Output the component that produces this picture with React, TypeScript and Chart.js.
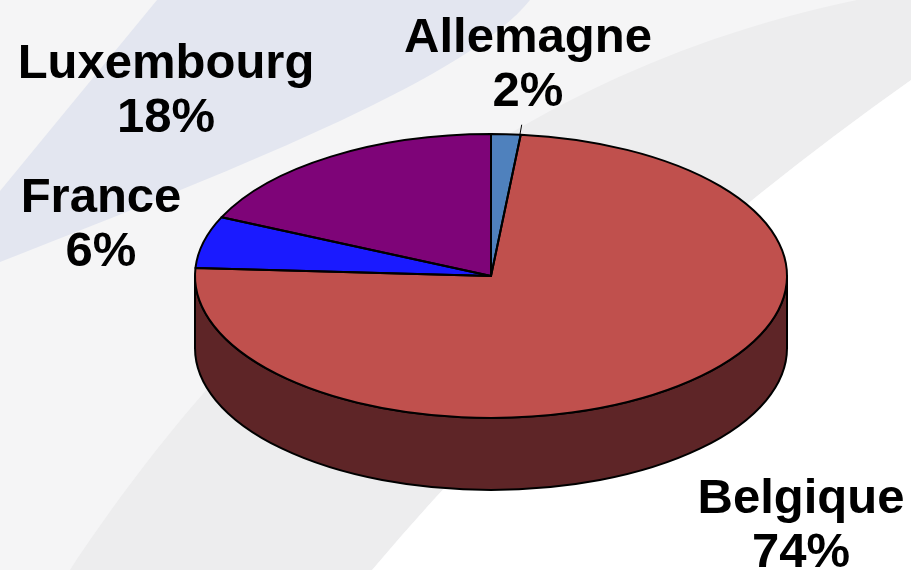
import React, { useEffect, useRef } from 'react';
import { Chart, registerables } from 'chart.js';

Chart.register(...registerables);

// ---- data ----
const categories = ['Allemagne', 'Belgique', 'France', 'Luxembourg'];
const shares = [1.6, 74.3, 5.9, 18.2];
const percentLabels = ['2%', '74%', '6%', '18%'];
const topColors = ['#4F81BD', '#C0504D', '#1A1AFF', '#7E0478'];
const sideColors = ['#28415F', '#5E2527', '#0D0D80', '#3F023C'];

// ---- layout ----
const W = 911;
const H = 570;
const CX = 491;
const CY = 276;
const RX = 296;
const RY = 142;
const DEPTH = 72;
const LINE_GAP = 54;
const FONT = 'bold 49px "Liberation Sans", Arial, sans-serif';
const labelAnchors = [
  { x: 528, y: 52 },
  { x: 801, y: 513 },
  { x: 101, y: 212 },
  { x: 166, y: 78 },
];

function applyPieTransform(ctx: CanvasRenderingContext2D, x: number, y: number, r: number) {
  ctx.translate(CX, CY);
  ctx.scale(RX / r, RY / r);
  ctx.translate(-x, -y);
}

const backgroundPlugin = {
  id: 'bgSwoosh',
  beforeDraw(chart: any) {
    const ctx: CanvasRenderingContext2D = chart.ctx;
    ctx.save();
    ctx.fillStyle = '#F5F5F6';
    ctx.fillRect(0, 0, W, H);
    // lavender swoosh
    ctx.fillStyle = '#E3E6F0';
    ctx.beginPath();
    ctx.moveTo(157, 0);
    ctx.lineTo(530, 0);
    ctx.bezierCurveTo(470, 75, 260, 160, 0, 262);
    ctx.lineTo(0, 191);
    ctx.closePath();
    ctx.fill();
    // gray band
    ctx.fillStyle = '#EDEDEE';
    ctx.beginPath();
    ctx.moveTo(70, 570);
    ctx.bezierCurveTo(230, 330, 480, 60, 911, -10);
    ctx.lineTo(911, 80);
    ctx.quadraticCurveTo(600, 300, 372, 570);
    ctx.closePath();
    ctx.fill();
    // white area
    ctx.fillStyle = '#FFFFFF';
    ctx.beginPath();
    ctx.moveTo(911, 80);
    ctx.quadraticCurveTo(600, 300, 372, 570);
    ctx.lineTo(911, 570);
    ctx.closePath();
    ctx.fill();
    ctx.restore();
  },
};

const pie3dPlugin = {
  id: 'pie3d',
  beforeDatasetsDraw(chart: any) {
    const ctx: CanvasRenderingContext2D = chart.ctx;
    const arcs = chart.getDatasetMeta(0).data;
    if (!arcs.length) return;
    const { x, y, outerRadius } = arcs[0].getProps(['x', 'y', 'outerRadius'], true);
    const d = DEPTH / (RY / outerRadius);
    arcs.forEach((arc: any, i: number) => {
      const { startAngle, endAngle } = arc.getProps(['startAngle', 'endAngle'], true);
      const a1 = Math.max(startAngle, 0);
      const a2 = Math.min(endAngle, Math.PI);
      if (a1 >= a2) return;
      ctx.save();
      applyPieTransform(ctx, x, y, outerRadius);
      ctx.beginPath();
      ctx.arc(x, y, outerRadius, a1, a2);
      ctx.lineTo(x + outerRadius * Math.cos(a2), y + outerRadius * Math.sin(a2) + d);
      ctx.arc(x, y + d, outerRadius, a2, a1, true);
      ctx.closePath();
      ctx.fillStyle = sideColors[i];
      ctx.fill();
      ctx.setTransform(1, 0, 0, 1, 0, 0);
      ctx.lineWidth = 2;
      ctx.lineJoin = 'round';
      ctx.strokeStyle = '#000';
      ctx.stroke();
      ctx.restore();
    });
    ctx.save();
    applyPieTransform(ctx, x, y, outerRadius);
  },
  afterDatasetsDraw(chart: any) {
    const ctx: CanvasRenderingContext2D = chart.ctx;
    const arcs = chart.getDatasetMeta(0).data;
    if (!arcs.length) return;
    ctx.restore();
    const { x, y, outerRadius } = arcs[0].getProps(['x', 'y', 'outerRadius'], true);
    arcs.forEach((arc: any) => {
      const { startAngle, endAngle } = arc.getProps(['startAngle', 'endAngle'], true);
      ctx.save();
      applyPieTransform(ctx, x, y, outerRadius);
      ctx.beginPath();
      ctx.moveTo(x, y);
      ctx.arc(x, y, outerRadius, startAngle, endAngle);
      ctx.closePath();
      ctx.setTransform(1, 0, 0, 1, 0, 0);
      ctx.lineWidth = 2;
      ctx.lineJoin = 'round';
      ctx.strokeStyle = '#000';
      ctx.stroke();
      ctx.restore();
    });
    // leader line for first slice
    const first = arcs[0].getProps(['endAngle'], true);
    const lx = CX + RX * Math.cos(first.endAngle) - 1;
    const ly = CY + RY * Math.sin(first.endAngle) + 1;
    ctx.save();
    ctx.strokeStyle = '#000';
    ctx.lineWidth = 1;
    ctx.beginPath();
    ctx.moveTo(lx, ly);
    ctx.lineTo(lx + 2, ly - 11);
    ctx.stroke();
    ctx.restore();
  },
  afterDraw(chart: any) {
    const ctx: CanvasRenderingContext2D = chart.ctx;
    ctx.save();
    ctx.fillStyle = '#000';
    ctx.font = FONT;
    ctx.textAlign = 'center';
    ctx.textBaseline = 'alphabetic';
    categories.forEach((name, i) => {
      const p = labelAnchors[i];
      ctx.fillText(name, p.x, p.y);
      ctx.fillText(percentLabels[i], p.x, p.y + LINE_GAP);
    });
    ctx.restore();
  },
};

export default function App() {
  const ref = useRef<HTMLCanvasElement | null>(null);
  useEffect(() => {
    if (!ref.current) return;
    const chart = new Chart(ref.current, {
      type: 'pie',
      data: {
        labels: categories,
        datasets: [
          {
            data: shares,
            backgroundColor: topColors,
            borderWidth: 0,
            clip: false as any,
          },
        ],
      },
      options: {
        animation: false,
        responsive: false,
        maintainAspectRatio: false,
        devicePixelRatio: 1,
        events: [],
        layout: { padding: 0 },
        plugins: {
          legend: { display: false },
          tooltip: { enabled: false },
          title: { display: false },
        },
      },
      plugins: [backgroundPlugin, pie3dPlugin],
    });
    return () => chart.destroy();
  }, []);
  return (
    <div style={{ position: 'fixed', left: 0, top: 0, width: W, height: H, overflow: 'hidden' }}>
      <canvas ref={ref} width={W} height={H} style={{ display: 'block', width: W, height: H }} />
    </div>
  );
}
